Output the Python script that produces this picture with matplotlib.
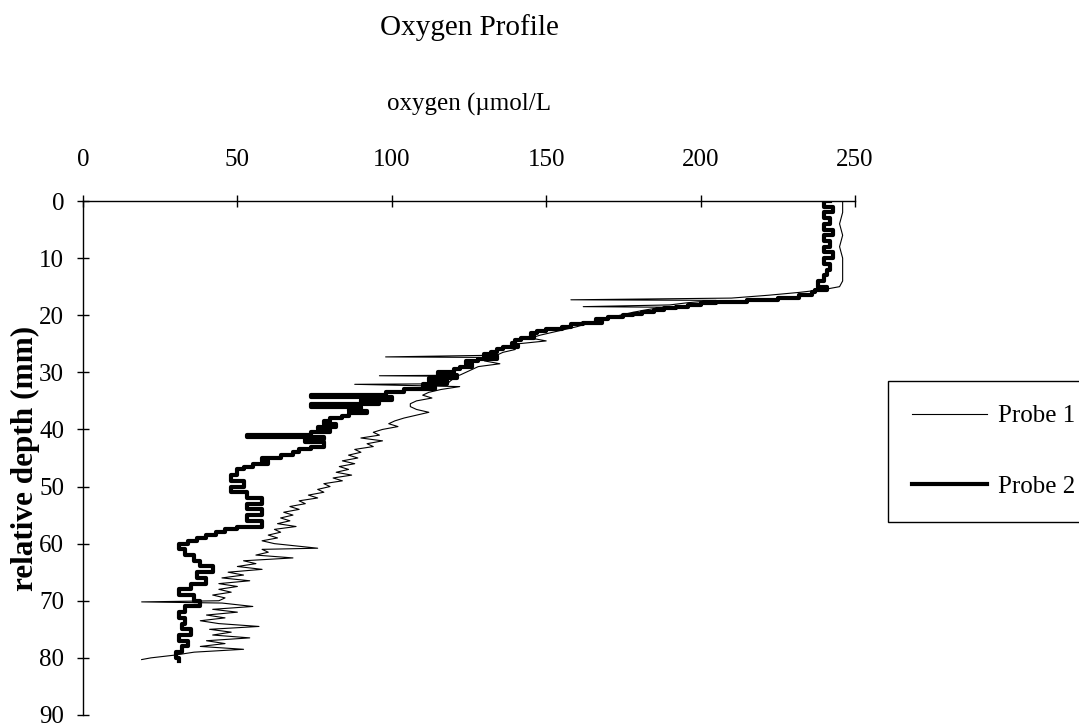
# Oxygen profile: two probes, depth vs oxygen
import matplotlib
matplotlib.use("Agg")
import matplotlib.pyplot as plt

plt.rcParams["font.family"] = ["Liberation Serif", "DejaVu Serif"]

# Probe 1 (thin line): depth (mm), oxygen (umol/L)
probe1_depth = [0, 2, 4, 6, 8, 10, 12, 14, 15,
                15.5, 16, 16.5, 17, 17.3, 17.4, 17.8, 18.2, 18.5, 18.6, 19,
                19.5, 20, 20.5, 21, 21.5, 22, 22.5, 23, 23.5, 24,
                24.5, 25, 25.5, 26, 26.5, 27, 27.3, 27.4, 28, 28.5,
                29, 29.5, 30, 30.5, 30.6, 30.7, 31.5, 32, 32.1, 32.5, 33,
                33.5, 34, 34.5, 35, 35.5, 36, 36.5, 37, 37.5, 38,
                38.5, 39, 39.5, 40, 40.5, 41, 41.5, 42, 42.5, 43,
                43.5, 44, 44.5, 45, 45.5, 46, 46.5, 47, 47.5, 48,
                48.5, 49, 49.5, 50, 50.5, 51, 51.5, 52, 52.5, 53,
                53.5, 54, 54.5, 55, 55.5, 56, 56.5, 57, 57.5, 58,
                58.5, 59, 59.5, 60, 60.8, 61, 61.5, 62, 62.5, 63,
                63.5, 64, 64.5, 65, 65.5, 66, 66.5, 67, 67.5, 68,
                68.5, 69, 69.5, 70, 70.2, 70.4, 71, 71.5, 72, 72.5,
                73, 73.5, 74, 74.5, 75, 75.5, 76, 76.5, 77, 77.5,
                78, 78.5, 79, 79.5, 80, 80.3]
probe1_oxygen = [246, 246, 245, 246, 245, 246, 246, 246, 245,
                 240, 232, 222, 210, 158, 205, 196, 190, 162, 188, 183,
                 178, 174, 170, 166, 163, 160, 156, 152, 148, 145,
                 150, 141, 138, 140, 136, 134, 98, 133, 130, 135,
                 128, 126, 124, 122, 96, 121, 119, 118, 88, 122, 116,
                 112, 110, 113, 108, 106, 106, 108, 112, 108, 104,
                 101, 99, 102, 97, 94, 96, 90, 97, 92, 94,
                 88, 90, 86, 89, 84, 88, 83, 86, 82, 87,
                 81, 84, 78, 80, 76, 78, 73, 76, 70, 72,
                 67, 70, 65, 68, 64, 67, 63, 69, 62, 64,
                 60, 63, 58, 62, 76, 58, 60, 56, 68, 52,
                 56, 50, 58, 47, 52, 45, 54, 44, 50, 44,
                 48, 42, 46, 44, 19, 45, 55, 42, 50, 40,
                 46, 38, 44, 57, 41, 48, 42, 54, 40, 46,
                 38, 52, 36, 30, 22, 19]

# Probe 2 (thick stepped line)
probe2_depth = [0, 1, 2, 3, 4, 5, 6, 7, 8, 9,
                10, 11, 12, 13, 14, 15, 15.5, 16, 16.5, 17,
                17.3, 17.6, 17.9, 18.2, 18.5, 18.8, 19.1, 19.4, 19.7, 20,
                20.3, 20.6, 21, 21.3, 21.6, 22, 22.4, 22.8, 23.2, 23.6,
                24, 24.4, 24.8, 25.2, 25.6, 26, 26.4, 26.8, 27.2, 27.6,
                28, 28.5, 29, 29.5, 30, 30.5, 31, 31.5, 32, 32.5,
                33, 33.5, 34, 34.4, 34.8, 35.2, 35.6, 36, 36.4, 36.8,
                37.2, 37.6, 38, 38.5, 39, 39.5, 40, 40.5, 41, 41.4,
                41.7, 42.2, 43, 43.5, 44, 44.5, 45, 45.5, 46, 46.5,
                47, 48, 49, 50, 51, 52, 53, 54, 55, 56,
                57, 57.5, 58, 58.5, 59, 59.5, 60, 61, 62, 63,
                64, 65, 66, 67, 68, 69, 70, 71, 72, 73,
                74, 75, 76, 77, 78, 79, 80, 80.5]
probe2_oxygen = [242, 240, 243, 240, 242, 240, 243, 240, 242, 240,
                 243, 240, 242, 241, 240, 238, 241, 237, 236, 232,
                 225, 215, 205, 200, 196, 192, 188, 185, 181, 178,
                 175, 170, 166, 168, 162, 158, 155, 150, 147, 145,
                 146, 142, 140, 139, 141, 136, 134, 132, 130, 134,
                 128, 124, 126, 122, 120, 115, 121, 112, 118, 110,
                 114, 104, 98, 74, 100, 90, 96, 74, 90, 86,
                 92, 86, 84, 80, 78, 82, 76, 80, 74, 53,
                 78, 72, 78, 74, 70, 68, 64, 58, 60, 55,
                 52, 50, 48, 52, 48, 53, 58, 53, 58, 53,
                 58, 50, 46, 43, 40, 37, 34, 31, 33, 36,
                 38, 42, 37, 40, 35, 31, 36, 38, 33, 31,
                 33, 32, 35, 31, 34, 32, 30, 31]

x_ticks = [0, 50, 100, 150, 200, 250]
y_ticks = [0, 10, 20, 30, 40, 50, 60, 70, 80, 90]

fig = plt.figure(figsize=(10.79, 7.28), dpi=100)
ax = fig.add_axes([0.0769, 0.0179, 0.7155, 0.706])

ax.plot(probe1_oxygen, probe1_depth, color="black", linewidth=0.8,
        label="Probe 1")
ax.plot(probe2_oxygen, probe2_depth, color="black", linewidth=3.0,
        drawstyle="steps-post", label="Probe 2")

ax.set_xlim(0, 250)
ax.set_ylim(90, 0)
ax.set_xticks(x_ticks)
ax.set_yticks(y_ticks)
ax.xaxis.tick_top()
for side in ["right", "bottom"]:
    ax.spines[side].set_visible(False)
for side in ["left", "top"]:
    ax.spines[side].set_linewidth(1.0)
ax.tick_params(axis="x", direction="inout", length=9, width=1.0,
               labelsize=18, pad=17)
ax.tick_params(axis="y", direction="inout", length=9, width=1.0,
               labelsize=18, pad=9)

ax.xaxis.set_label_position("top")
ax.set_xlabel("oxygen (µmol/L", fontsize=18)
ax.xaxis.set_label_coords(0.5, 1.187)
ax.xaxis.label.set_va("center")

ax.set_ylabel("relative depth (mm)", fontsize=22.5, fontweight="bold")
ax.yaxis.set_label_coords(-0.075, 0.5)
ax.yaxis.label.set_va("center")

ax.text(0.5, 1.3366, "Oxygen Profile", transform=ax.transAxes,
        ha="center", va="center", fontsize=21)

leg = ax.legend(loc="upper left", bbox_to_anchor=(0.823, 0.4766),
                bbox_transform=fig.transFigure, borderaxespad=0,
                fontsize=18, frameon=True, fancybox=False,
                edgecolor="black", framealpha=1, handlelength=3.0,
                handletextpad=0.45, labelspacing=1.92, borderpad=0.95)
leg.get_frame().set_linewidth(1.0)

fig.savefig("out.png", dpi=100)
